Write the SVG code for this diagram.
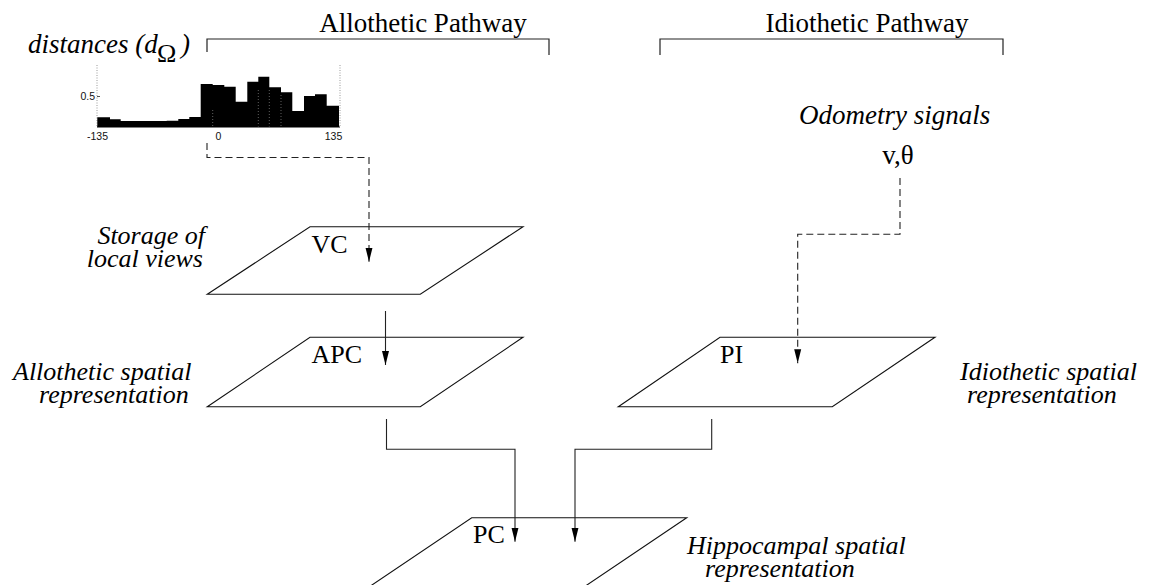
<svg xmlns="http://www.w3.org/2000/svg" width="1149" height="585" viewBox="0 0 1149 585">
<defs>
<style>
.t{font-family:"Liberation Serif","Times New Roman",serif;font-size:27px;fill:#000}
.it{font-family:"Liberation Serif","Times New Roman",serif;font-size:27px;font-style:italic;fill:#000}
.it2{font-family:"Liberation Serif","Times New Roman",serif;font-size:26px;font-style:italic;fill:#000}
.lbl{font-family:"Liberation Serif","Times New Roman",serif;font-size:26px;fill:#000}
.ax{font-family:"Liberation Sans",Arial,sans-serif;font-size:10.5px;fill:#111}
.br{fill:none;stroke:#222;stroke-width:1.2}
.pg{fill:#fff;stroke:#111;stroke-width:1.1}
.sl{fill:none;stroke:#222;stroke-width:1.1}
.dl{fill:none;stroke:#222;stroke-width:1.1;stroke-dasharray:7,4}
.bar{fill:#000}
.dot{fill:none;stroke:#999;stroke-width:1;stroke-dasharray:1,1.5}
</style>
<marker id="ah" viewBox="0 -4 14 8" refX="14" refY="0" markerWidth="14" markerHeight="8" markerUnits="userSpaceOnUse" orient="auto">
<path d="M0,-3.5 L14,0 L0,3.5 Z" fill="#000" stroke="none"/>
</marker>
</defs>
<rect width="1149" height="585" fill="#fff"/>

<g id="allothetic-header">
<text class="t" x="423" y="31.5" text-anchor="middle">Allothetic Pathway</text>
<path class="br" d="M207,52 V39 H549 V55"/>
</g>
<g id="idiothetic-header">
<text class="t" x="867" y="31.5" text-anchor="middle">Idiothetic Pathway</text>
<path class="br" d="M660,55 V39 H1003 V55"/>
</g>

<g id="histogram">
<text class="it" x="28" y="53.3">distances (d</text>
<text class="lbl" x="157" y="62" font-size="18">Ω</text>
<text class="it" x="181" y="53.3">)</text>
<path class="dot" d="M97,65 V127 M340,65 V127"/>
<path class="bar" d="M97.3,127 V117.3 H110 V119.3 H120.7 V121 H166.7 V120.7 H178.3 V119 H189.3 V117 H200.7 V84 H212.7 V85 H224.3 V86.7 H235.7 V101.7 H247.3 V81.7 H258.3 V76.7 H269.3 V87.3 H281 V92.3 H292.3 V111 H304 V96 H315 V94.3 H326.7 V105.7 H339 V127 Z"/>
<path d="M258.3,90 V127 M269.3,90 V127 M281,95 V127 M212.7,110 V127" stroke="#777" stroke-width="0.8" stroke-dasharray="1,2" fill="none"/>
<path d="M97,127 H340" stroke="#000" stroke-width="1"/>
<path d="M97,96.5 H100" stroke="#555" stroke-width="1"/>
<text class="ax" x="95" y="99.5" text-anchor="end">0.5</text>
<text class="ax" x="97.5" y="140" text-anchor="middle">-135</text>
<text class="ax" x="218.5" y="140" text-anchor="middle">0</text>
<text class="ax" x="333.5" y="140" text-anchor="middle">135</text>
</g>

<g id="odometry">
<text class="it" x="799" y="124">Odometry signals</text>
<text class="t" x="898" y="164" font-size="22" text-anchor="middle">v,θ</text>
</g>

<g id="VC">
<path class="pg" d="M310,226.7 H523 L420.3,294.3 H207.3 Z"/>
<text class="lbl" x="311.5" y="252.5">VC</text>
<text class="it2" x="205" y="244" text-anchor="end">Storage of</text>
<text class="it2" x="203" y="267" text-anchor="end">local views</text>
</g>

<g id="APC">
<path class="pg" d="M310,337.3 H523 L420.3,406.7 H207.3 Z"/>
<text class="lbl" x="311.5" y="363.3">APC</text>
<text class="it2" x="13" y="380">Allothetic spatial</text>
<text class="it2" x="39" y="403">representation</text>
</g>

<g id="PI">
<path class="pg" d="M720,337.3 H935 L832.3,406.7 H618.3 Z"/>
<text class="lbl" x="720" y="363.3">PI</text>
<text class="it2" x="960" y="380">Idiothetic spatial</text>
<text class="it2" x="967" y="403">representation</text>
</g>

<g id="PC">
<path class="pg" d="M471.7,517.7 H686.7 L584,587 H369 Z"/>
<text class="lbl" x="473" y="543.3">PC</text>
<text class="it2" x="687" y="554">Hippocampal spatial</text>
<text class="it2" x="705" y="577">representation</text>
</g>

<g id="connectors">
<path class="dl" d="M207,143 V157.5 H369 V261.7" marker-end="url(#ah)"/>
<path class="dl" d="M900,178 V234.3 H797.7 V363.3" marker-end="url(#ah)"/>
<path class="sl" d="M385.5,311 V365" marker-end="url(#ah)"/>
<path class="sl" d="M386.5,419 V449.3 H515 V541.7" marker-end="url(#ah)"/>
<path class="sl" d="M711.7,419 V449.3 H575 V541.7" marker-end="url(#ah)"/>
</g>
</svg>
